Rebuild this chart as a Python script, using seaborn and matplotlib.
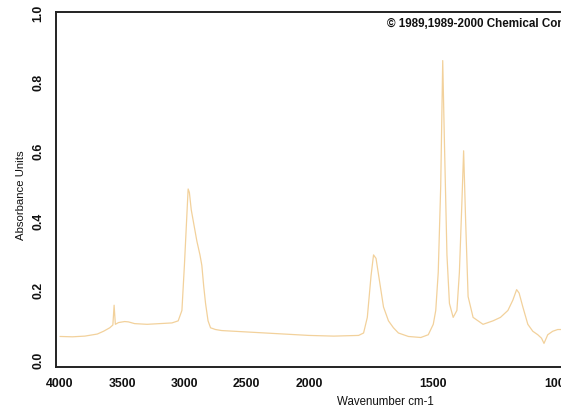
import numpy as np
import pandas as pd
import matplotlib
matplotlib.use("Agg")
import matplotlib.pyplot as plt
from matplotlib.patches import Rectangle
import seaborn as sns

# ---- data ----
wavenumber = [4000, 3900, 3800, 3700, 3650, 3600, 3575, 3565, 3555, 3530, 3480,
              3450, 3400, 3300, 3200, 3100, 3050, 3020, 3000, 2985, 2970, 2960,
              2945, 2930, 2900, 2875, 2860, 2845, 2830, 2810, 2790, 2750, 2700,
              2600, 2500, 2400, 2300, 2200, 2100, 2000, 1900, 1800, 1780, 1765,
              1750, 1740, 1730, 1715, 1700, 1680, 1660, 1640, 1600, 1550, 1520,
              1500, 1490, 1480, 1470, 1462, 1455, 1445, 1435, 1420, 1405, 1395,
              1385, 1378, 1370, 1360, 1340, 1300, 1260, 1230, 1200, 1180, 1165,
              1155, 1140, 1120, 1100, 1080, 1065, 1055, 1040, 1020, 1000, 985]
absorbance = [0.065, 0.064, 0.066, 0.072, 0.080, 0.090, 0.098, 0.155, 0.100, 0.105, 0.108,
              0.107, 0.102, 0.100, 0.102, 0.104, 0.110, 0.140, 0.270, 0.380, 0.490, 0.480,
              0.430, 0.400, 0.340, 0.300, 0.270, 0.210, 0.160, 0.110, 0.090, 0.085, 0.082,
              0.080, 0.078, 0.076, 0.074, 0.072, 0.070, 0.068, 0.066, 0.068, 0.075, 0.120,
              0.240, 0.300, 0.290, 0.220, 0.150, 0.110, 0.090, 0.075, 0.065, 0.062, 0.070,
              0.100, 0.140, 0.250, 0.500, 0.860, 0.620, 0.300, 0.160, 0.120, 0.140, 0.250,
              0.450, 0.600, 0.400, 0.180, 0.120, 0.100, 0.110, 0.120, 0.140, 0.170, 0.200,
              0.190, 0.150, 0.100, 0.080, 0.070, 0.060, 0.045, 0.070, 0.080, 0.085, 0.085]
x_ticks = [4000, 3500, 3000, 2500, 2000, 1500, 1000]
y_ticks = [0.0, 0.2, 0.4, 0.6, 0.8, 1.0]
x_label = "Wavenumber cm-1"
y_label = "Absorbance Units"
copyright_text = "\u00a9 1989,1989-2000 Chemical Concepts"

df = pd.DataFrame({"wavenumber": wavenumber, "absorbance": absorbance})

sns.set_theme(style="white")
plt.rcParams["font.family"] = ["Liberation Sans", "DejaVu Sans"]

W, H = 571, 410
fig = plt.figure(figsize=(W / 100, H / 100), dpi=100)
fig.patch.set_facecolor("white")

# axes extend past the (cropped) right edge of the scan
left_px, right_px, top_px, bottom_px = 56, 707, 13, 368
ax = fig.add_axes([left_px / W, 1 - bottom_px / H,
                   (right_px - left_px) / W, (bottom_px - top_px) / H])


# piecewise-linear wavenumber axis (increasing function):
# 4000-2000 compressed, 2000-400 expanded
def fwd(w):
    w = np.asarray(w, dtype=float)
    return np.where(w >= 2000, (w - 4000) / 2000.0, (w - 2000) / 1000.0 - 1)


def inv(p):
    p = np.asarray(p, dtype=float)
    return np.where(p >= -1, 4000 + 2000 * p, 2000 + 1000 * (p + 1))


ax.set_xscale("function", functions=(fwd, inv))

sns.lineplot(data=df, x="wavenumber", y="absorbance", ax=ax, estimator=None,
             sort=True, color="#f0c98a", linewidth=0.9, alpha=0.85)

ax.set_xlim(4032, 400)
ax.set_ylim(-0.023, 1.0)
ax.set_xticks(x_ticks)
ax.set_xticklabels([str(t) for t in x_ticks])
ax.set_yticks(y_ticks)
ax.set_yticklabels([f"{t:.1f}" for t in y_ticks], rotation=90, va="center")
ax.tick_params(axis="x", length=0, pad=7.5, labelsize=8.8, colors="#111111")
ax.tick_params(axis="y", length=0, pad=8.5, labelsize=8.8, colors="#111111")
for lab in ax.get_xticklabels() + ax.get_yticklabels():
    lab.set_fontweight("bold")
ax.set_xlabel("")
ax.set_ylabel("")

for side in ["left", "bottom", "top", "right"]:
    ax.spines[side].set_color("#222222")
    ax.spines[side].set_linewidth(1.4)

fig.text(21 / W, 1 - 195 / H, y_label, rotation=90, ha="center", va="center",
         fontsize=8.2, color="#111111")
fig.text(385 / W, 1 - 402 / H, x_label, ha="center", va="center",
         fontsize=8.3, color="#111111")
fig.text(387 / W, 1 - 24 / H, copyright_text, ha="left", va="center",
         fontsize=8.4, fontweight="bold", color="#111111")

# cropped scan edge
fig.patches.append(Rectangle((561 / W, 0), 10 / W, 1, transform=fig.transFigure,
                             facecolor="white", edgecolor="none", zorder=10))

fig.savefig("out.png", dpi=100, facecolor="white")
